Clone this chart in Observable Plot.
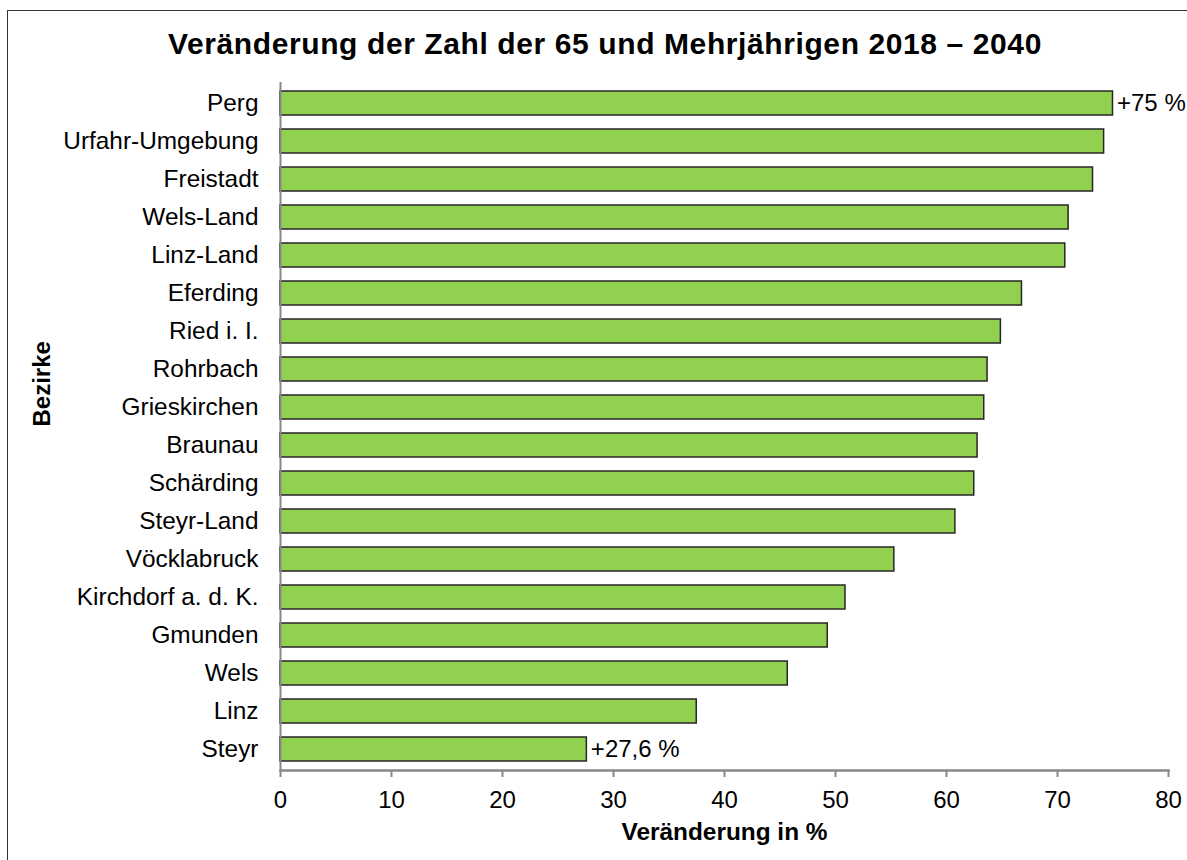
<!DOCTYPE html>
<html>
<head>
<meta charset="utf-8">
<script src="https://cdn.jsdelivr.net/npm/d3@7"></script>
<script src="https://cdn.jsdelivr.net/npm/@observablehq/plot@0.6"></script>
<style>
  html, body { margin: 0; padding: 0; background: #fff; overflow: hidden; width: 1187px; height: 860px; }
  body { position: relative; font-family: "Liberation Sans", Arial, sans-serif; }
  #frame { position: absolute; left: 7px; top: 10px; width: 3000px; height: 3000px; border-top: 1.5px solid #333; border-left: 1.5px solid #333; box-sizing: border-box; pointer-events: none; }
  #title { position: relative; height: 44px; padding-top: 28px; line-height: 32px; font-size: 30px; letter-spacing: 0.6px; font-weight: bold; text-align: center; padding-left: 23px; color: #000; white-space: nowrap; }
  #chart { position: relative; }
</style>
</head>
<body>
<div id="frame"></div>
<div id="title">Veränderung der Zahl der 65 und Mehrjährigen 2018 – 2040</div>
<div id="chart"></div>
<script>
const districts = ["Perg", "Urfahr-Umgebung", "Freistadt", "Wels-Land", "Linz-Land", "Eferding", "Ried i. I.", "Rohrbach", "Grieskirchen", "Braunau", "Schärding", "Steyr-Land", "Vöcklabruck", "Kirchdorf a. d. K.", "Gmunden", "Wels", "Linz", "Steyr"];
const changes = [75.0, 74.2, 73.2, 71.0, 70.7, 66.8, 64.9, 63.7, 63.4, 62.8, 62.5, 60.8, 55.3, 50.9, 49.3, 45.7, 37.5, 27.6];
const xTicks = [0, 10, 20, 30, 40, 50, 60, 70, 80];
const labelDistricts = ["Perg", "Steyr"];
const labelTexts = ["+75 %", "+27,6 %"];
const xLabel = "Veränderung in %";
const yLabel = "Bezirke";

const data = districts.map((d, i) => ({district: d, value: changes[i]}));
const labels = labelDistricts.map((d, i) => ({district: d, value: changes[districts.indexOf(d)], text: labelTexts[i]}));

const plot = Plot.plot({
  width: 1187,
  height: 788,
  marginTop: 10,
  marginBottom: 90,
  marginLeft: 280,
  marginRight: 19,
  style: {fontFamily: '"Liberation Sans", Arial, sans-serif', fontSize: "24px", color: "#000", background: "transparent", overflow: "visible"},
  x: {domain: [0, 80]},
  y: {domain: districts, paddingInner: 0.38, paddingOuter: 0.18},
  marks: [
    Plot.barX(data, {x: "value", y: "district", fill: "#92D050", stroke: "#262626", strokeWidth: 1.5}),
    Plot.ruleX([0], {stroke: "#888", strokeWidth: 2}),
    Plot.frame({anchor: "bottom", stroke: "#888", strokeWidth: 2.5}),
    Plot.axisX({ticks: xTicks, tickSize: 7, tickPadding: 13, fontSize: 24, stroke: "#888", strokeWidth: 2, fill: "#000", label: null}),
    Plot.axisY({tickSize: 0, tickPadding: 22, fontSize: 24.4, fill: "#000", label: null}),
    Plot.text(labels, {x: "value", y: "district", text: "text", textAnchor: "start", dx: 4, fontSize: 24, fill: "#000"}),
    Plot.text([xLabel], {frameAnchor: "bottom", lineAnchor: "bottom", dy: 69, fontSize: 24.4, fontWeight: "bold", fill: "#000"}),
    Plot.text([yLabel], {frameAnchor: "left", rotate: -90, dx: -238, fontSize: 24, fontWeight: "bold", fill: "#000"})
  ]
});
document.getElementById("chart").appendChild(plot);
</script>
</body>
</html>
